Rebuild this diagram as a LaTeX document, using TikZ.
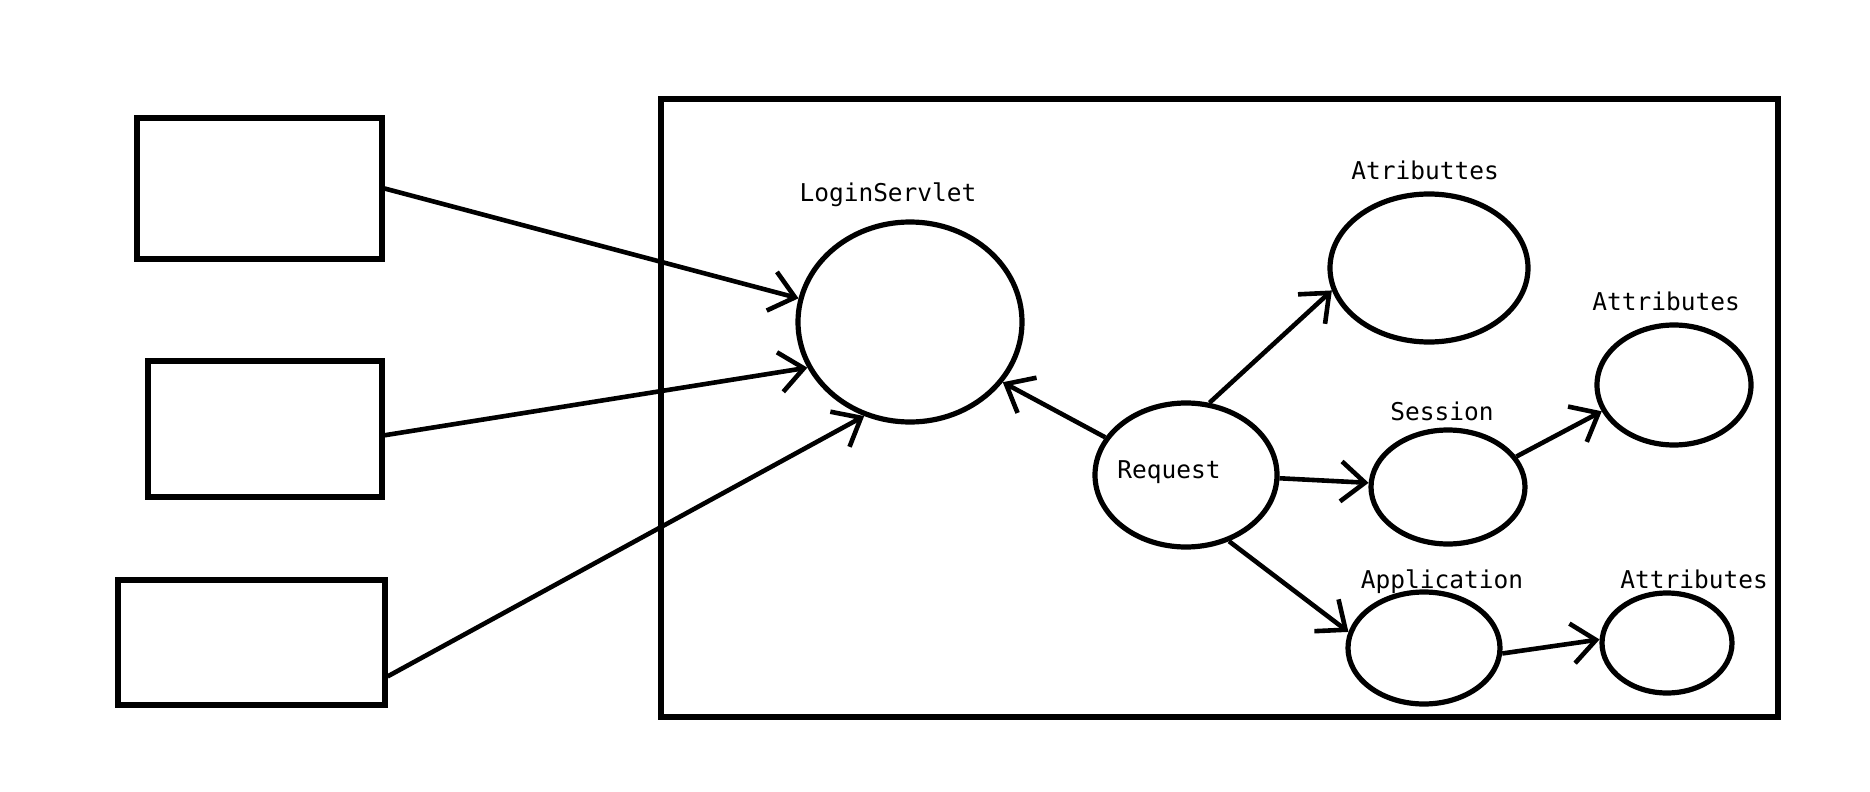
\documentclass[tikz,border=0pt]{standalone}
\usepackage{fontspec}
\setmonofont{DejaVu Sans Mono}
\usetikzlibrary{shapes.geometric,arrows.meta}
\tikzset{
        box/.style={draw=black, line width=2.6pt, rectangle, inner sep=0pt},
        bubble/.style={draw=black, line width=2.6pt, ellipse, inner sep=0pt},
        caption/.style={font=\ttfamily\fontsize{12.25}{14}\selectfont, anchor=base, inner sep=0pt},
        link/.style={line width=2.3pt, -{Straight Barb[length=12pt,width=20pt]}}
          }
\begin{document}
\begin{tikzpicture}[x=0.5pt, y=-0.5pt]
        \useasboundingbox (0,0) rectangle (1870,792);
        \node[box, minimum width=558.5pt, minimum height=309pt] (server) at (1219.5,408) {};
        \node[box, minimum width=122.5pt, minimum height=70.5pt] (client1) at (259.5,188.5) {};
        \node[box, minimum width=117pt, minimum height=68pt] (client2) at (265,429) {};
        \node[box, minimum width=133.5pt, minimum height=62.5pt] (client3) at (251.5,642.5) {};

        \node[bubble, minimum width=112pt, minimum height=100pt] (login) at (910,322) {};
        \node[bubble, minimum width=91pt, minimum height=72pt] (request) at (1186,475) {};
        \node[bubble, minimum width=99pt, minimum height=74pt] (reqattr) at (1429,268) {};
        \node[bubble, minimum width=77pt, minimum height=57pt] (session) at (1448,487) {};
        \node[bubble, minimum width=77pt, minimum height=60pt] (sessattr) at (1674,385) {};
        \node[bubble, minimum width=76pt, minimum height=56pt] (application) at (1424,648) {};
        \node[bubble, minimum width=65pt, minimum height=50pt] (appattr) at (1667,643) {};

        \node[caption] (loginlbl) at (888,202) {LoginServlet};
        \node[caption] (requestlbl) at (1169,478) {Request};
        \node[caption] (reqattrlbl) at (1425,180) {Atributtes};
        \node[caption] (sessionlbl) at (1442,420) {Session};
        \node[caption] (sessattrlbl) at (1666,310) {Attributes};
        \node[caption] (applicationlbl) at (1442,588) {Application};
        \node[caption] (appattrlbl) at (1694,588) {Attributes};

        \draw[link] (client1.east) -- (login.168);
        \draw[link] (client2.357) -- (login.204);
        \draw[link] (client3.346) -- (login.244);
        \draw[link] (request.155) -- (login.327);
        \draw[link] (request.72) -- (reqattr.193);
        \draw[link] (request.358) -- (session.177);
        \draw[link] (request.303) -- (application.168);
        \draw[link] (session.24) -- (sessattr.200);
        \draw[link] (application.356) -- (appattr.177);
      \end{tikzpicture}
\end{document}
